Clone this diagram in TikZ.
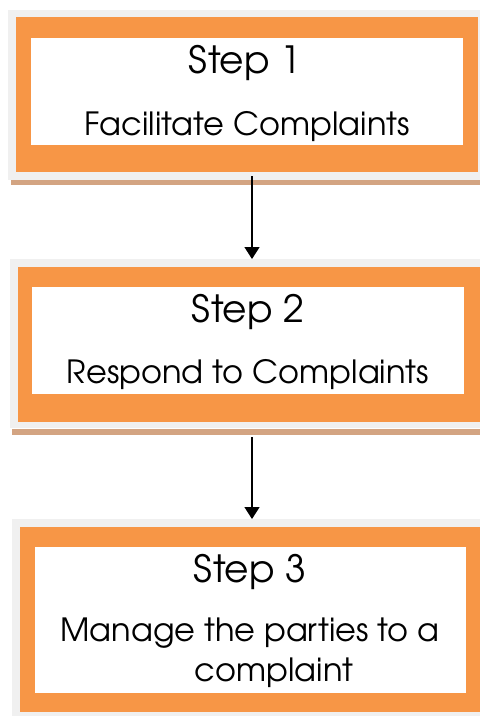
\documentclass[tikz,border=0pt]{standalone}
\usepackage{fontspec}
\setmainfont{texgyreadventor-regular.otf}
\usetikzlibrary{arrows.meta}
\definecolor{boxorange}{HTML}{F79646}
\definecolor{shadegray}{HTML}{F0F0F0}
\definecolor{tanline}{HTML}{D3A482}
\tikzset{
  graybg/.style={fill=shadegray, draw=none},
  tanbar/.style={fill=tanline, draw=none},
  orangebox/.style={fill=boxorange, draw=none},
  whitebox/.style={fill=white, draw=none},
  steptitle/.style={font=\fontsize{37.5}{37.5}\selectfont, inner sep=0pt, anchor=center},
  steptext/.style={font=\fontsize{32}{32}\selectfont, inner sep=0pt, anchor=center},
  flow/.style={line width=1.5pt, -{Triangle[width=15pt,length=12pt]}}
}
\begin{document}
\begin{tikzpicture}[x=1pt,y=-1pt]
\useasboundingbox (0,0) rectangle (480,716);
\fill[white] (0,0) rectangle (480,716);
% box 1
\fill[graybg] (8,10) rectangle (480,180);
\fill[tanbar] (11,180) rectangle (480,185);
\path[orangebox] (16,17) rectangle (478,172);
\fill[whitebox] (31,38) rectangle (463,145);
\node[steptitle] (t1) at (245,63) {Step 1};
\node[steptext] (d1) at (247,127) {Facilitate Complaints};
% box 2
\fill[graybg] (10,259) rectangle (480,428);
\fill[tanbar] (12,429) rectangle (480,435);
\path[orangebox] (18,267) rectangle (480,422);
\fill[whitebox] (32,287) rectangle (464,394);
\node[steptitle] (t2) at (248,312) {Step 2};
\node[steptext] (d2) at (248,375) {Respond to Complaints};
% box 3
\fill[graybg] (12,519) rectangle (480,716);
\path[orangebox] (20,527) rectangle (480,712);
\fill[whitebox] (35,547) rectangle (466,693);
\node[steptitle] (t3) at (250,572) {Step 3};
\node[steptext] (d3a) at (250,633) {Manage the parties to a};
\node[steptext] (d3b) at (274,673) {complaint};
% connectors
\coordinate (a1s) at (252,176);
\coordinate (a1e) at (252,259);
\coordinate (a2s) at (252,437);
\coordinate (a2e) at (252,519);
\draw[flow] (a1s) -- (a1e);
\draw[flow] (a2s) -- (a2e);
\end{tikzpicture}
\end{document}
